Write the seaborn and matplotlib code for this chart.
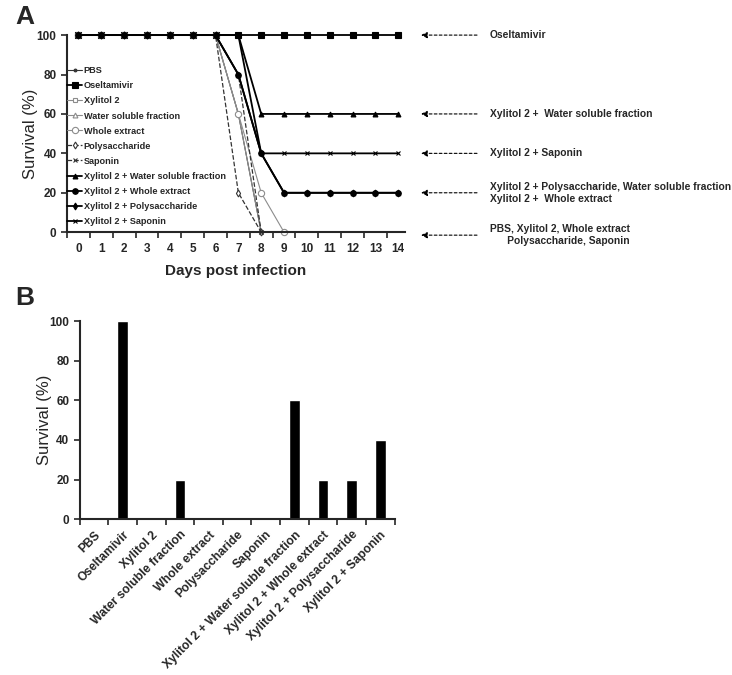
import numpy as np
import pandas as pd
import matplotlib
matplotlib.use("Agg")
import matplotlib.pyplot as plt
import matplotlib.transforms as mtrans
import seaborn as sns

sns.set_style("ticks")
plt.rcParams['font.family'] = ['Liberation Sans', 'DejaVu Sans']

# ---- data ----
days = [0, 1, 2, 3, 4, 5, 6, 7, 8, 9, 10, 11, 12, 13, 14]
pbs = [100, 100, 100, 100, 100, 100, 100, 60, 0]
oseltamivir = [100, 100, 100, 100, 100, 100, 100, 100, 100, 100, 100, 100, 100, 100, 100]
xylitol2 = [100, 100, 100, 100, 100, 100, 100, 60, 0]
water_soluble = [100, 100, 100, 100, 100, 100, 100, 80, 40, 20, 20, 20, 20, 20, 20]
whole_extract = [100, 100, 100, 100, 100, 100, 100, 60, 20, 0]
polysaccharide = [100, 100, 100, 100, 100, 100, 100, 20, 0]
saponin = [100, 100, 100, 100, 100, 100, 100, 80, 0]
x2_water = [100, 100, 100, 100, 100, 100, 100, 100, 60, 60, 60, 60, 60, 60, 60]
x2_whole = [100, 100, 100, 100, 100, 100, 100, 80, 40, 20, 20, 20, 20, 20, 20]
x2_poly = [100, 100, 100, 100, 100, 100, 100, 80, 40, 20, 20, 20, 20, 20, 20]
x2_saponin = [100, 100, 100, 100, 100, 100, 100, 100, 40, 40, 40, 40, 40, 40, 40]

groups = ["PBS", "Oseltamivir", "Xylitol 2", "Water soluble fraction", "Whole extract",
          "Polysaccharide", "Saponin", "Xylitol 2 + Water soluble fraction",
          "Xylitol 2 + Whole extract", "Xylitol 2 + Polysaccharide", "Xylitol 2 + Saponin"]
final_survival = [0, 100, 0, 20, 0, 0, 0, 60, 20, 20, 40]

# (values, color, marker, markerfacecolor, linestyle, linewidth, markersize)
series = [
    (pbs, "#333333", ".", "#333333", "-", 0.8, 4),
    (oseltamivir, "black", "s", "black", "-", 1.3, 4.5),
    (xylitol2, "#8c8c8c", "s", "white", "-", 0.8, 3),
    (water_soluble, "#8c8c8c", "^", "white", "-", 0.8, 3.5),
    (whole_extract, "#8c8c8c", "o", "white", "-", 0.8, 4.5),
    (polysaccharide, "#333333", "d", "white", "--", 0.9, 3.5),
    (saponin, "#333333", "x", "#333333", "--", 0.9, 3),
    (x2_water, "black", "^", "black", "-", 1.3, 3.5),
    (x2_whole, "black", "o", "black", "-", 1.3, 4),
    (x2_poly, "black", "d", "black", "-", 1.3, 3.5),
    (x2_saponin, "black", "x", "black", "-", 1.3, 3.5),
]

fig = plt.figure(figsize=(7.32, 6.75), dpi=100)

# ---- panel A ----
ax1 = fig.add_axes([0.0915, 0.656, 0.462, 0.292])
for name, (vals, col, mk, mfc, ls, lw, ms) in zip(groups, series):
    sns.lineplot(x=days[:len(vals)], y=vals, ax=ax1, color=col, marker=mk,
                 markerfacecolor=mfc, markeredgecolor=col, markersize=ms,
                 linestyle=ls, linewidth=lw, label=name, clip_on=False,
                 markeredgewidth=0.8)

ax1.set_xlim(-0.48, 14.3)
ax1.set_ylim(0, 100)
ax1.set_xticks(days)
ax1.set_xticks(np.arange(-0.5, 14.5, 1), minor=True)
ax1.tick_params(axis="x", which="major", length=0, labelsize=8.5, pad=8)
ax1.tick_params(axis="x", which="minor", length=4, width=1.2, direction="out")
ax1.set_yticks([0, 20, 40, 60, 80, 100])
ax1.tick_params(axis="y", length=4, width=1.2, labelsize=8.5)
for lab in ax1.get_xticklabels() + ax1.get_yticklabels():
    lab.set_fontweight("bold")
for s in ["left", "bottom"]:
    ax1.spines[s].set_linewidth(1.5)
sns.despine(ax=ax1)
ax1.set_xlabel("Days post infection", fontsize=11, fontweight="bold", labelpad=6)
ax1.set_ylabel("Survival (%)", fontsize=12, labelpad=-1)

leg = ax1.legend(loc="upper left", bbox_to_anchor=(-0.01, 0.86), frameon=False,
                 fontsize=6.6, handlelength=1.6, handletextpad=0.2,
                 labelspacing=0.66, borderaxespad=0)
for t in leg.get_texts():
    t.set_fontweight("bold")

# arrows with notes on the right
trans = mtrans.blended_transform_factory(fig.transFigure, ax1.transData)
notes = [
    (100, "Oseltamivir"),
    (60, "Xylitol 2 +  Water soluble fraction"),
    (40, "Xylitol 2 + Saponin"),
    (20, "Xylitol 2 + Polysaccharide, Water soluble fraction\nXylitol 2 +  Whole extract"),
    (-1.5, "PBS, Xylitol 2, Whole extract\n      Polysaccharide, Saponin"),
]
for yv, txt in notes:
    ax1.annotate("", xy=(421 / 732, yv), xytext=(477 / 732, yv),
                 xycoords=trans, textcoords=trans, annotation_clip=False,
                 arrowprops=dict(arrowstyle="-|>", linestyle=(0, (2.5, 2)),
                                 color="black", lw=0.8, mutation_scale=9,
                                 shrinkA=0, shrinkB=0))
    ax1.text(490 / 732, yv, txt, transform=trans, fontsize=7.4, fontweight="bold",
             va="center", ha="left", linespacing=1.2)

fig.text(15 / 732, 1 - 17 / 675, "A", fontsize=19, fontweight="bold", va="center")

# ---- panel B ----
ax2 = fig.add_axes([0.109, 0.231, 0.430, 0.293])
bar_df = pd.DataFrame({"group": groups, "survival": final_survival})
sns.barplot(data=bar_df, x="group", y="survival", ax=ax2, color="black",
            width=0.37, saturation=1)
ax2.set_xlim(-0.5, 10.5)
ax2.set_ylim(0, 100)
ax2.set_yticks([0, 20, 40, 60, 80, 100])
ax2.set_xticks(np.arange(-0.5, 11, 1), minor=True)
ax2.tick_params(axis="x", which="major", length=0, labelsize=8.7, pad=7)
ax2.tick_params(axis="x", which="minor", length=4, width=1.2, direction="out")
ax2.tick_params(axis="y", length=4, width=1.2, labelsize=8.5)
ax2.set_xticks(range(len(groups)))
ax2.set_xticklabels(groups, rotation=45, ha="right", rotation_mode="anchor")
for lab in ax2.get_xticklabels() + ax2.get_yticklabels():
    lab.set_fontweight("bold")
for s in ["left", "bottom"]:
    ax2.spines[s].set_linewidth(1.5)
sns.despine(ax=ax2)
ax2.set_xlabel("")
ax2.set_ylabel("Survival (%)", fontsize=12, labelpad=-2)

fig.text(15 / 732, 1 - 298 / 675, "B", fontsize=19, fontweight="bold", va="center")

fig.savefig("out.png", dpi=100)
